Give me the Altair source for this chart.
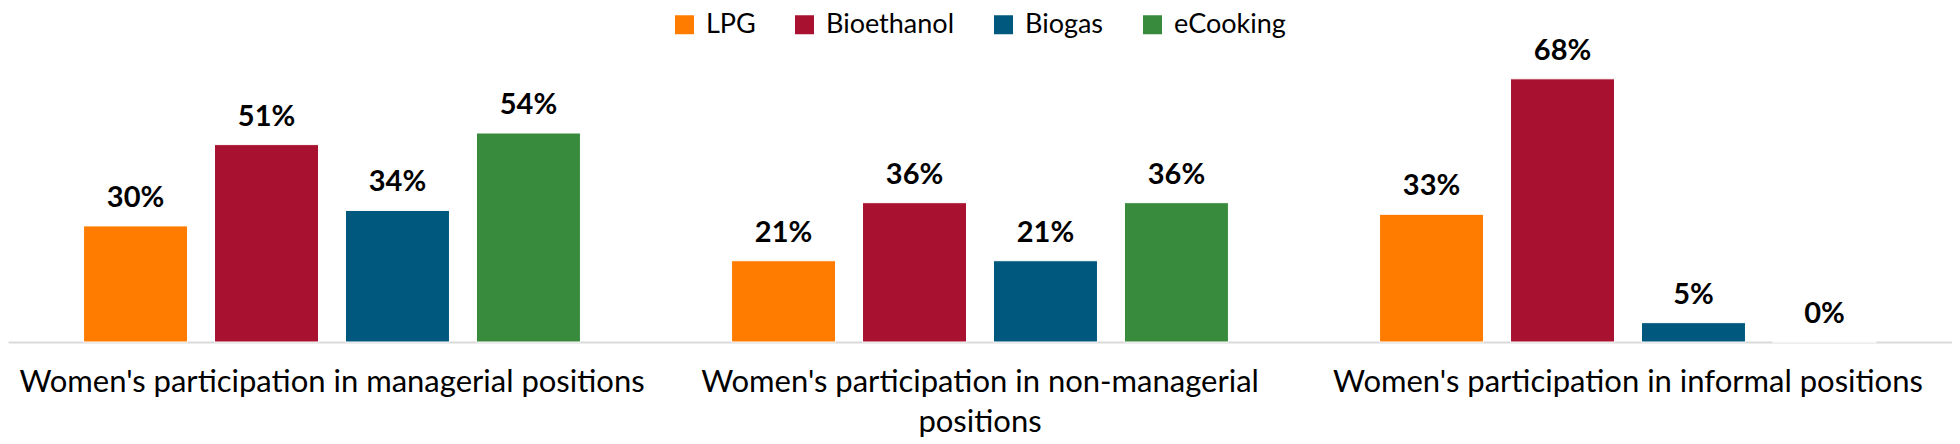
import altair as alt
import pandas as pd

categories = [
    "Women's participation in managerial positions",
    "Women's participation in non-managerial positions",
    "Women's participation in informal positions",
]
fuels = ["LPG", "Bioethanol", "Biogas", "eCooking"]
lpg = [30, 21, 33]
bioethanol = [51, 36, 68]
biogas = [34, 21, 5]
ecooking = [54, 36, 0]
colors = ["#FF7C00", "#A91130", "#00587E", "#388A3C"]

rows = []
for fuel, vals in zip(fuels, [lpg, bioethanol, biogas, ecooking]):
    for c, v in zip(categories, vals):
        rows.append({"category": c, "fuel": fuel, "value": v, "label": f"{v}%"})
df = pd.DataFrame(rows)

FONT = "Lato"
label_expr = (
    "datum.label == \"Women's participation in non-managerial positions\" ? "
    "[\"Women's participation in non-managerial\", \"positions\"] : datum.label"
)

x = alt.X(
    "category:N",
    sort=categories,
    scale=alt.Scale(paddingInner=0, paddingOuter=0),
    axis=alt.Axis(
        title=None,
        labelAngle=0,
        ticks=False,
        domainColor="#D9D9D9",
        domainWidth=2,
        labelFont=FONT,
        labelFontSize=31,
        labelColor="#000000",
        labelPadding=25,
        labelLineHeight=40,
        labelLimit=1000,
        labelExpr=label_expr,
    ),
)
xo = alt.XOffset(
    "fuel:N", sort=fuels, scale=alt.Scale(paddingInner=0.206, paddingOuter=0.577)
)
y = alt.Y("value:Q", scale=alt.Scale(domain=[0, 86.3]), axis=None)
color = alt.Color(
    "fuel:N",
    sort=fuels,
    scale=alt.Scale(domain=fuels, range=colors),
    legend=alt.Legend(
        title=None,
        orient="none",
        direction="horizontal",
        legendX=663,
        legendY=3,
        symbolType="square",
        symbolSize=361,
        symbolStrokeWidth=0,
        symbolOpacity=1,
        labelFont=FONT,
        labelFontSize=27,
        labelColor="#000000",
        labelOffset=8,
        columnPadding=35,
    ),
)

base = alt.Chart(df)
bars = base.mark_bar(stroke="white", strokeWidth=1).encode(
    x=x, xOffset=xo, y=y, color=color
)
texts = base.mark_text(
    dy=-19, baseline="alphabetic", font=FONT, fontSize=29, fontWeight="bold", color="#000000"
).encode(x=x, xOffset=xo, y=y, text="label:N")

chart = (
    alt.layer(bars, texts)
    .properties(width=1944, height=334, padding=0)
    .configure_view(stroke=None)
)
chart.save("out.html", embed_options={"renderer": "svg", "actions": False})
